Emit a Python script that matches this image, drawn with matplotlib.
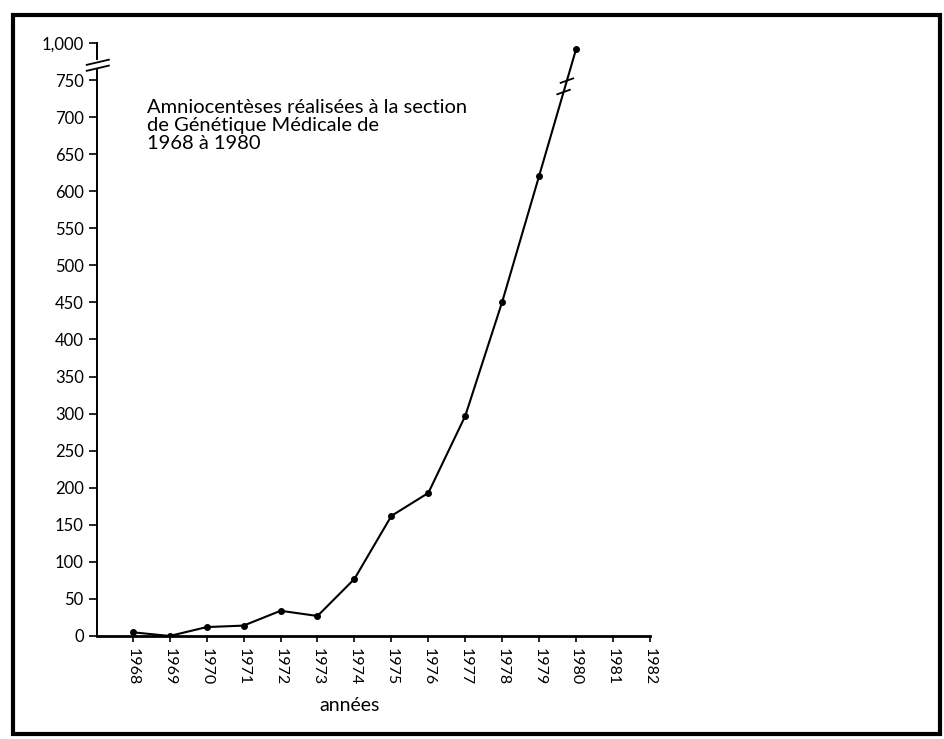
import matplotlib
matplotlib.use("Agg")
import matplotlib.pyplot as plt
from matplotlib.patches import Rectangle
import numpy as np

plt.rcParams['font.family'] = ['Lato', 'DejaVu Sans']

# amniocenteses per year
years = [1968, 1969, 1970, 1971, 1972, 1973, 1974, 1975, 1976, 1977, 1978, 1979, 1980]
counts = [5, 0, 12, 14, 34, 27, 77, 162, 193, 297, 451, 621, 960]

xticks = list(range(1968, 1983))
yticks = [0, 50, 100, 150, 200, 250, 300, 350, 400, 450, 500, 550, 600, 650, 700, 750, 1000]
ytick_labels = [str(v) for v in yticks[:-1]] + ["1,000"]

title_txt = "Amniocentèses réalisées à la section\nde Génétique Médicale de\n1968 à 1980"
xlab = "années"

# axis is broken between 750 and 1000: 750..1000 squeezed into one step
def squash(v):
    v = np.asarray(v, dtype=float)
    return np.where(v <= 750, v, 750 + (v - 750) / 5.0)

fig = plt.figure(figsize=(9.44, 7.39), dpi=100)
ax = fig.add_axes([0.1028, 0.1394, 0.5858, 0.8024])

ax.plot(years, squash(counts), color='black', lw=1.5, marker='o', ms=4, zorder=3)

ax.set_xlim(1967.034, 1982)
ax.set_ylim(0, 800)
ax.set_xticks(xticks)
ax.set_xticklabels([str(y) for y in xticks], rotation=-90, fontsize=11.5)
ax.set_yticks(squash(yticks))
ax.set_yticklabels(ytick_labels, fontsize=12)
ax.tick_params(axis='y', direction='out', length=6, width=1.2, color='black', pad=3.5)
ax.tick_params(axis='x', direction='out', length=4.5, width=1.2, color='black', pad=4)

for s in ['top', 'right']:
    ax.spines[s].set_visible(False)
ax.spines['bottom'].set_linewidth(2)
ax.spines['left'].set_linewidth(1.4)
ax.spines['left'].set_bounds(0, 764)

# upper piece of the y axis above the break
x0 = ax.get_xlim()[0]
ax.plot([x0, x0], [778, 800], color='black', lw=1.4, clip_on=False)
for yb in (766, 774):
    ax.plot([x0 - 0.28, x0 + 0.32], [yb - 3.5, yb + 3.5], color='black', lw=1.3, clip_on=False)

# break marks on the data line between the last two points
ya = squash(counts[-2])
yb_ = squash(counts[-1])
for frac in (0.66, 0.75):
    xm = years[-2] + frac * (years[-1] - years[-2])
    ym = ya + frac * (yb_ - ya)
    ax.plot([xm - 0.17, xm + 0.17], [ym - 3, ym + 3], color='black', lw=1.3)

ax.text(1968.38, 725, title_txt, fontsize=14.5, va='top', ha='left', linespacing=1.08)
ax.text(0.456, -0.118, xlab, transform=ax.transAxes, fontsize=14,
        ha='center', va='center')

# scanned page frame
fig.patches.append(Rectangle((0.0138, 0.0068), 0.982, 0.9729, transform=fig.transFigure,
                             fill=False, edgecolor='black', lw=3))

fig.savefig("out.png", dpi=100)
